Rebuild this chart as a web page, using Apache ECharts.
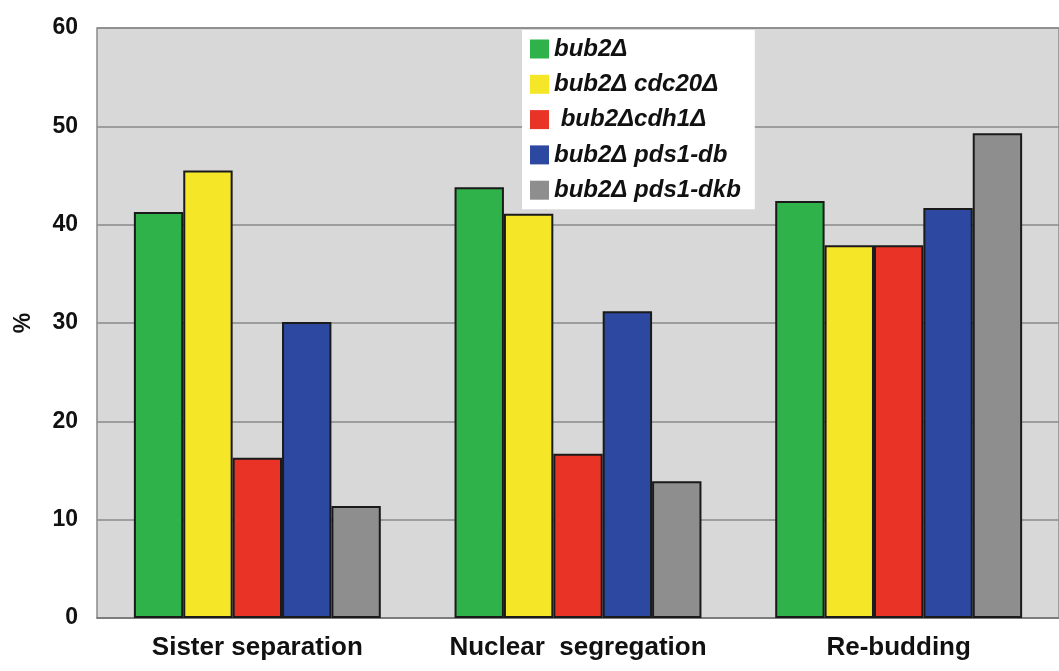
<!DOCTYPE html>
<html><head><meta charset="utf-8">
<script src="https://cdn.jsdelivr.net/npm/echarts@6/dist/echarts.min.js"></script>
<style>html,body{margin:0;padding:0;background:#fff}#c{width:1059px;height:671px}</style>
</head><body><div id="c"></div>
<script>
const categories = ['Sister separation', 'Nuclear  segregation', 'Re-budding'];
const seriesNames = ['bub2Δ', 'bub2Δ cdc20Δ', ' bub2Δcdh1Δ', 'bub2Δ pds1-db', 'bub2Δ pds1-dkb'];
const bub2 = [41.3, 43.8, 42.4];
const bub2cdc20 = [45.5, 41.1, 37.9];
const bub2cdh1 = [16.3, 16.7, 37.9];
const pds1db = [30.1, 31.2, 41.7];
const pds1dkb = [11.4, 13.9, 49.3];
const yTicks = [0, 10, 20, 30, 40, 50, 60];
const colors = ['#2fb24a', '#f6e628', '#ea3327', '#2c48a0', '#8e8e8e'];
const values = [bub2, bub2cdc20, bub2cdh1, pds1db, pds1dkb];

const chart = echarts.init(document.getElementById('c'));
chart.setOption({
  animation: false,
  grid: { left: 97, right: 0, top: 28, bottom: 53, show: true, backgroundColor: '#d8d8d8', borderColor: '#8a8a8a', borderWidth: 1.5 },
  legend: {
    orient: 'vertical', left: 522, top: 30, itemWidth: 19, itemHeight: 19, itemGap: 11.3,
    icon: 'rect',
    backgroundColor: '#ffffff', padding: [7, 14, 7, 8],
    textStyle: { fontFamily: 'Liberation Sans', fontWeight: 'bold', fontStyle: 'italic', fontSize: 24, color: '#111' },
    itemStyle: { borderWidth: 0 },
    data: seriesNames
  },
  xAxis: {
    type: 'category', data: categories,
    axisLine: { lineStyle: { color: '#777', width: 1.5 } },
    axisTick: { show: false },
    axisLabel: { interval: 0, hideOverlap: false, margin: 17, fontFamily: 'Liberation Sans', fontWeight: 'bold', fontSize: 26, color: '#111' }
  },
  yAxis: {
    type: 'value', min: 0, max: 60, interval: 10,
    name: '%', nameLocation: 'middle', nameGap: 62, nameRotate: 90,
    nameTextStyle: { fontFamily: 'Liberation Sans', fontWeight: 'bold', fontSize: 23, color: '#111' },
    axisLine: { show: false }, axisTick: { show: false },
    splitLine: { lineStyle: { color: '#8a8a8a', width: 1.5 } },
    axisLabel: { margin: 19, fontFamily: 'Liberation Sans', fontWeight: 'bold', fontSize: 23, color: '#111',
      formatter: v => yTicks.includes(v) ? String(v) : '' }
  },
  series: seriesNames.map((n, i) => ({
    name: n, type: 'bar', data: values[i], barGap: '0%', barCategoryGap: '23%',
    itemStyle: { color: colors[i], borderColor: '#1a1a1a', borderWidth: 2 }
  }))
});
</script></body></html>
